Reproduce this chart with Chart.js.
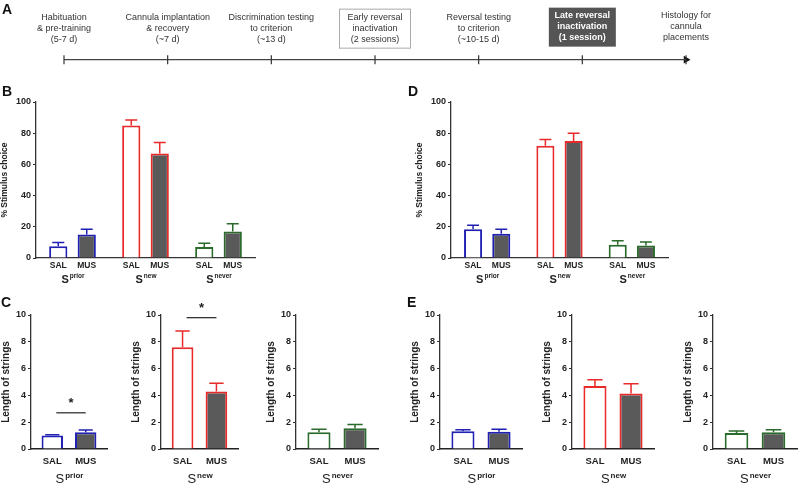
<!DOCTYPE html>
<html>
<head>
<meta charset="utf-8">
<script src="https://cdn.jsdelivr.net/npm/chart.js@4.4.1/dist/chart.umd.min.js"></script>
<style>
  body { margin: 0; background: #fff; }
  #fig { position: relative; width: 798px; height: 488px; overflow: hidden; }
  .box { position: absolute; }
  .letter { position: absolute; font: bold 14px 'Liberation Sans', Arial, sans-serif; line-height: 1; color: #111; }
</style>
</head>
<body>
<div id="fig">
  <div class="box" style="left:0;top:0"><canvas id="timeline" width="798" height="75"></canvas></div>
  <div class="box" style="left:0;top:92px"><canvas id="chartB" width="262" height="200"></canvas></div>
  <div class="box" style="left:415px;top:92px"><canvas id="chartD" width="260" height="200"></canvas></div>
  <div class="box" style="left:0;top:300px"><canvas id="chartC1" width="115" height="188"></canvas></div>
  <div class="box" style="left:130px;top:300px"><canvas id="chartC2" width="116" height="188"></canvas></div>
  <div class="box" style="left:265px;top:300px"><canvas id="chartC3" width="121" height="188"></canvas></div>
  <div class="box" style="left:409px;top:300px"><canvas id="chartE1" width="121" height="188"></canvas></div>
  <div class="box" style="left:541px;top:300px"><canvas id="chartE2" width="120" height="188"></canvas></div>
  <div class="box" style="left:682px;top:300px"><canvas id="chartE3" width="116" height="188"></canvas></div>
  <div class="letter" style="left:2px;top:2px">A</div>
  <div class="letter" style="left:2px;top:84px">B</div>
  <div class="letter" style="left:1px;top:295px">C</div>
  <div class="letter" style="left:408px;top:84px">D</div>
  <div class="letter" style="left:407px;top:295px">E</div>
</div>
<script>
// Zeitleiste
const timelineSteps = [
    ['Habituation', '& pre-training', '(5-7 d)'],
    ['Cannula implantation', '& recovery', '(~7 d)'],
    ['Discrimination testing', 'to criterion', '(~13 d)'],
    ['Early reversal', 'inactivation', '(2 sessions)'],
    ['Reversal testing', 'to criterion', '(~10-15 d)'],
    ['Late reversal', 'inactivation', '(1 session)'],
    ['Histology for', 'cannula', 'placements']
];

// Stimuli und Behandlungen
const stimuli = ['prior', 'new', 'never'];
const treatments = ['SAL', 'MUS'];

// B: frühe Umkehr, % Stimuluswahl
const earlyChoiceSAL = [7.5, 85, 7];
const earlyChoiceSALErr = [2.5, 3.5, 2.5];
const earlyChoiceMUS = [15, 67, 17];
const earlyChoiceMUSErr = [3.5, 7, 5];

// D: späte Umkehr, % Stimuluswahl
const lateChoiceSAL = [18.5, 72, 8.5];
const lateChoiceSALErr = [2.5, 4, 2.5];
const lateChoiceMUS = [15.5, 75, 8];
const lateChoiceMUSErr = [3, 5, 2.3];

// C: frühe Umkehr, Länge der Strings
const earlyStringsSAL = [1.0, 7.6, 1.25];
const earlyStringsSALErr = [0.07, 1.2, 0.22];
const earlyStringsMUS = [1.25, 4.3, 1.55];
const earlyStringsMUSErr = [0.17, 0.6, 0.28];
const earlySignificance = [2.7, 9.8, null];

// E: späte Umkehr, Länge der Strings
const lateStringsSAL = [1.33, 4.7, 1.2];
const lateStringsSALErr = [0.1, 0.47, 0.15];
const lateStringsMUS = [1.28, 4.15, 1.25];
const lateStringsMUSErr = [0.2, 0.72, 0.18];

const stimColors = ['#2020b4', '#e82a2a', '#2a6a2a'];
const musFill = '#5a5a5a';
const FONT = "'Liberation Sans', Arial, sans-serif";

Chart.defaults.font.family = FONT;
Chart.defaults.color = '#222';

// Fehlerbalken nach oben
const errorBars = {
    id: 'errorBars',
    afterDatasetsDraw(chart) {
        const ctx = chart.ctx;
        const y = chart.scales.y;
        chart.data.datasets.forEach((ds, i) => {
            if (!ds.errors) return;
            chart.getDatasetMeta(i).data.forEach((bar, j) => {
                const col = Array.isArray(ds.borderColor) ? ds.borderColor[j] : ds.borderColor;
                const top = y.getPixelForValue(ds.data[j] + ds.errors[j]);
                const half = bar.width * 0.33;
                ctx.save();
                ctx.strokeStyle = col;
                ctx.lineWidth = 1.5;
                ctx.beginPath();
                ctx.moveTo(bar.x, bar.y);
                ctx.lineTo(bar.x, top);
                ctx.moveTo(bar.x - half, top);
                ctx.lineTo(bar.x + half, top);
                ctx.stroke();
                ctx.restore();
            });
        });
    }
};

// SAL/MUS unter den Balken und S^xxx unter jeder Gruppe
const treatLabels = {
    id: 'treatLabels',
    afterDraw(chart, args, opts) {
        const ctx = chart.ctx;
        const bottom = chart.chartArea.bottom;
        const m0 = chart.getDatasetMeta(0).data;
        const m1 = chart.getDatasetMeta(1).data;
        ctx.save();
        ctx.fillStyle = '#222';
        ctx.textAlign = 'center';
        ctx.textBaseline = 'middle';
        ctx.font = 'bold ' + opts.size + 'px ' + FONT;
        m0.forEach((bar, j) => {
            ctx.fillText(treatments[0], bar.x, bottom + opts.treatY);
            ctx.fillText(treatments[1], m1[j].x, bottom + opts.treatY);
            const cx = (bar.x + m1[j].x) / 2;
            const sup = chart.data.labels[j];
            ctx.font = opts.sWeight + ' ' + opts.sSize + 'px ' + FONT;
            const sw = ctx.measureText('S').width;
            ctx.font = 'bold ' + opts.supSize + 'px ' + FONT;
            const pw = ctx.measureText(sup).width;
            const left = cx - (sw + pw) / 2;
            const base = bottom + opts.stimY;
            ctx.textAlign = 'left';
            ctx.textBaseline = 'alphabetic';
            ctx.font = opts.sWeight + ' ' + opts.sSize + 'px ' + FONT;
            ctx.fillText('S', left, base);
            ctx.font = 'bold ' + opts.supSize + 'px ' + FONT;
            ctx.fillText(sup, left + sw + 1, base - opts.sSize * 0.42);
            ctx.textAlign = 'center';
            ctx.textBaseline = 'middle';
            ctx.font = 'bold ' + opts.size + 'px ' + FONT;
        });
        ctx.restore();
    }
};

// Signifikanzlinie mit Stern
const sigBar = {
    id: 'sigBar',
    afterDraw(chart, args, opts) {
        if (opts.level == null) return;
        const ctx = chart.ctx;
        const a = chart.getDatasetMeta(0).data[0];
        const b = chart.getDatasetMeta(1).data[0];
        const yy = chart.scales.y.getPixelForValue(opts.level);
        ctx.save();
        ctx.strokeStyle = '#222';
        ctx.lineWidth = 1.2;
        ctx.beginPath();
        ctx.moveTo(a.x + 4, yy);
        ctx.lineTo(b.x, yy);
        ctx.stroke();
        ctx.fillStyle = '#222';
        ctx.font = 'bold 13px ' + FONT;
        ctx.textAlign = 'center';
        ctx.textBaseline = 'middle';
        ctx.fillText('*', (a.x + 4 + b.x) / 2, yy - 9);
        ctx.restore();
    }
};

// Texte der Zeitleiste
const timelineText = {
    id: 'timelineText',
    afterDraw(chart) {
        const ctx = chart.ctx;
        const x = chart.scales.x;
        const lineY = chart.scales.y.getPixelForValue(0);
        ctx.save();
        ctx.textAlign = 'center';
        ctx.textBaseline = 'middle';
        chart.data.labels.forEach((lines, i) => {
            const cx = x.getPixelForValue(i);
            let color = '#333';
            let weight = '';
            let shift = 0;
            if (i === 3) {
                ctx.strokeStyle = '#aaa';
                ctx.lineWidth = 1;
                ctx.strokeRect(cx - 35.5, lineY - 50.5, 71, 39);
            } else if (i === 5) {
                ctx.fillStyle = '#555';
                ctx.fillRect(cx - 33.5, lineY - 52, 67, 39);
                color = '#fff';
                weight = 'bold ';
                shift = -2;
            } else if (i === 6) {
                shift = -2;
            }
            ctx.fillStyle = color;
            ctx.font = weight + '9px ' + FONT;
            lines.forEach((t, k) => {
                ctx.fillText(t, cx, lineY - 42 + shift + k * 11);
            });
        });
        ctx.restore();
    }
};

new Chart(document.getElementById('timeline'), {
    type: 'line',
    data: {
        labels: timelineSteps,
        datasets: [
            {
                data: timelineSteps.map(() => 0),
                borderColor: '#444',
                borderWidth: 1.2,
                pointStyle: 'line',
                rotation: 90,
                pointRadius: 4.5,
                pointBorderColor: '#333',
                pointBorderWidth: 1.2
            },
            {
                data: timelineSteps.map((s, i) => i === timelineSteps.length - 1 ? 0 : null),
                showLine: false,
                pointStyle: 'triangle',
                rotation: 90,
                pointRadius: 4.5,
                pointBackgroundColor: '#111',
                pointBorderColor: '#111',
                pointBorderWidth: 0
            }
        ]
    },
    options: {
        responsive: false,
        devicePixelRatio: 1,
        animation: false,
        layout: { padding: { left: 64, right: 112, top: 50, bottom: 0 } },
        scales: {
            x: { display: false, offset: false },
            y: { display: false, min: -1, max: 1 }
        },
        plugins: { legend: { display: false }, tooltip: { enabled: false } }
    },
    plugins: [timelineText]
});

function yAxis(max, step, title, titleSize, tickSize, width) {
    return {
        min: 0,
        max: max,
        ticks: { stepSize: step, color: '#222', font: { size: tickSize, weight: 'bold' }, padding: 2 },
        grid: { drawOnChartArea: false, tickLength: 3, color: '#333', lineWidth: 1 },
        border: { color: '#333', width: 1.3 },
        title: { display: true, text: title, color: '#222', font: { size: titleSize, weight: 'bold' }, padding: 0 },
        afterFit: s => { s.width = width; }
    };
}

function barDatasets(sal, salErr, mus, musErr, colors) {
    return [
        {
            label: treatments[0],
            data: sal,
            errors: salErr,
            backgroundColor: '#fff',
            borderColor: colors,
            borderWidth: 2,
            borderSkipped: 'bottom'
        },
        {
            label: treatments[1],
            data: mus,
            errors: musErr,
            backgroundColor: musFill,
            borderColor: colors,
            borderWidth: 2,
            borderSkipped: 'bottom'
        }
    ];
}

// Grosse Diagramme B und D
function choiceChart(id, sal, salErr, mus, musErr) {
    new Chart(document.getElementById(id), {
        type: 'bar',
        data: { labels: stimuli, datasets: barDatasets(sal, salErr, mus, musErr, stimColors) },
        options: {
            responsive: false,
            devicePixelRatio: 1,
            animation: false,
            categoryPercentage: 0.78,
            barPercentage: 0.64,
            layout: { padding: { left: 0, right: 7, top: 10, bottom: 0 } },
            scales: {
                x: {
                    ticks: { display: false },
                    grid: { display: false },
                    border: { color: '#333', width: 1.3 },
                    afterFit: s => { s.height = 34; }
                },
                y: yAxis(100, 20, '% Stimulus choice', 8.5, 9, 36)
            },
            plugins: {
                legend: { display: false },
                tooltip: { enabled: false },
                treatLabels: { size: 8.5, treatY: 8, stimY: 25, sSize: 11, supSize: 6.5, sWeight: 'bold' }
            }
        },
        plugins: [errorBars, treatLabels]
    });
}

choiceChart('chartB', earlyChoiceSAL, earlyChoiceSALErr, earlyChoiceMUS, earlyChoiceMUSErr);
choiceChart('chartD', lateChoiceSAL, lateChoiceSALErr, lateChoiceMUS, lateChoiceMUSErr);

// Kleine Diagramme C und E
function stringChart(id, k, sal, salErr, mus, musErr, sig, padRight) {
    new Chart(document.getElementById(id), {
        type: 'bar',
        data: {
            labels: [stimuli[k]],
            datasets: barDatasets([sal[k]], [salErr[k]], [mus[k]], [musErr[k]], [stimColors[k]])
        },
        options: {
            responsive: false,
            devicePixelRatio: 1,
            animation: false,
            categoryPercentage: 0.88,
            barPercentage: 0.64,
            layout: { padding: { left: 0, right: padRight, top: 15, bottom: 0 } },
            scales: {
                x: {
                    ticks: { display: false },
                    grid: { display: false },
                    border: { color: '#222', width: 1.6 },
                    afterFit: s => { s.height = 39; }
                },
                y: yAxis(10, 2, 'Length of strings', 10, 9, 31)
            },
            plugins: {
                legend: { display: false },
                tooltip: { enabled: false },
                treatLabels: { size: 9.5, treatY: 12, stimY: 34, sSize: 13, supSize: 8, sWeight: 'normal' },
                sigBar: { level: sig }
            }
        },
        plugins: [errorBars, treatLabels, sigBar]
    });
}

stringChart('chartC1', 0, earlyStringsSAL, earlyStringsSALErr, earlyStringsMUS, earlyStringsMUSErr, earlySignificance[0], 8);
stringChart('chartC2', 1, earlyStringsSAL, earlyStringsSALErr, earlyStringsMUS, earlyStringsMUSErr, earlySignificance[1], 8);
stringChart('chartC3', 2, earlyStringsSAL, earlyStringsSALErr, earlyStringsMUS, earlyStringsMUSErr, earlySignificance[2], 8);
stringChart('chartE1', 0, lateStringsSAL, lateStringsSALErr, lateStringsMUS, lateStringsMUSErr, null, 8);
stringChart('chartE2', 1, lateStringsSAL, lateStringsSALErr, lateStringsMUS, lateStringsMUSErr, null, 7);
stringChart('chartE3', 2, lateStringsSAL, lateStringsSALErr, lateStringsMUS, lateStringsMUSErr, null, 1);
</script>
</body>
</html>
